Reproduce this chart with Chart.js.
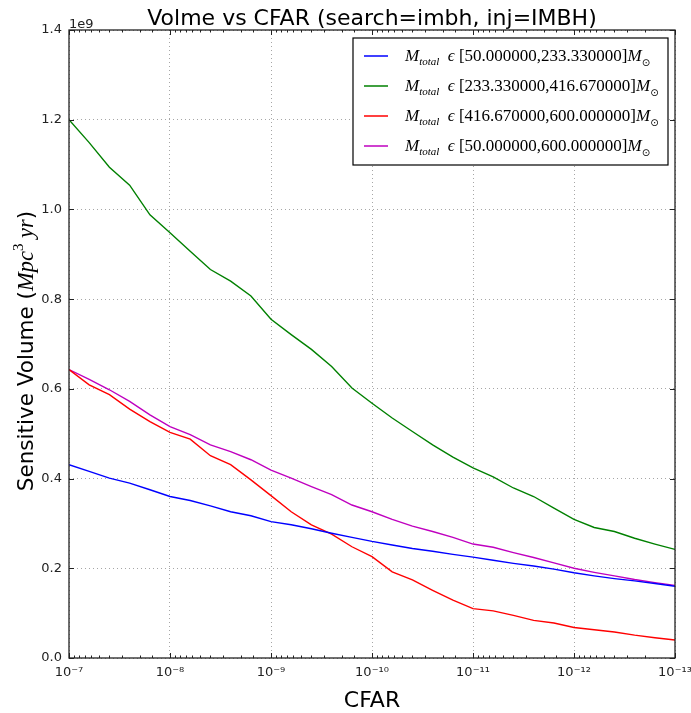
<!DOCTYPE html>
<html>
<head>
<meta charset="utf-8">
<script src="https://cdn.jsdelivr.net/npm/chart.js@4"></script>
<style>
  html, body { margin: 0; padding: 0; background: #fff; }
  #wrap { width: 691px; height: 713px; }
</style>
</head>
<body>
<div id="wrap"><canvas id="volChart" width="691" height="713"></canvas></div>
<script>
// CFAR sample points (x axis, log scale, reversed)
const cfar = [1.0e-7, 6.31e-8, 3.98e-8, 2.51e-8, 1.58e-8, 1.0e-8, 6.31e-9, 3.98e-9, 2.51e-9, 1.58e-9,
  1.0e-9, 6.31e-10, 3.98e-10, 2.51e-10, 1.58e-10, 1.0e-10, 6.31e-11, 3.98e-11, 2.51e-11, 1.58e-11,
  1.0e-11, 6.31e-12, 3.98e-12, 2.51e-12, 1.58e-12, 1.0e-12, 6.31e-13, 3.98e-13, 2.51e-13, 1.58e-13, 1.0e-13];

// sensitive volume, in units of 1e9 Mpc^3 yr
const volLow = [0.431, 0.416, 0.401, 0.390, 0.375, 0.360, 0.351, 0.339, 0.326, 0.317,
  0.304, 0.297, 0.288, 0.278, 0.269, 0.260, 0.252, 0.244, 0.238, 0.231,
  0.225, 0.218, 0.211, 0.205, 0.198, 0.190, 0.183, 0.177, 0.172, 0.166, 0.160];
const volMid = [1.200, 1.149, 1.094, 1.054, 0.988, 0.948, 0.907, 0.866, 0.840, 0.807,
  0.755, 0.721, 0.688, 0.650, 0.602, 0.568, 0.535, 0.505, 0.475, 0.448,
  0.424, 0.404, 0.379, 0.360, 0.334, 0.309, 0.291, 0.282, 0.267, 0.254, 0.242];
const volHigh = [0.643, 0.609, 0.587, 0.555, 0.527, 0.503, 0.488, 0.451, 0.431, 0.397,
  0.362, 0.326, 0.297, 0.276, 0.248, 0.226, 0.192, 0.174, 0.151, 0.129,
  0.110, 0.105, 0.095, 0.084, 0.078, 0.068, 0.063, 0.058, 0.051, 0.045, 0.040];
const volAll = [0.643, 0.621, 0.598, 0.572, 0.542, 0.516, 0.498, 0.475, 0.460, 0.442,
  0.419, 0.401, 0.382, 0.364, 0.341, 0.326, 0.309, 0.294, 0.282, 0.269,
  0.254, 0.247, 0.235, 0.224, 0.212, 0.200, 0.191, 0.183, 0.175, 0.168, 0.162];

// total mass bins (solar masses) for the legend
const massBins = [[50, 233.33], [233.33, 416.67], [416.67, 600], [50, 600]];
const yTicks = [0, 0.2, 0.4, 0.6, 0.8, 1.0, 1.2, 1.4];

const SANS = "'DejaVu Sans', sans-serif";
const SERIF = "'Liberation Serif', 'DejaVu Serif', serif";
const SUP = { "-": "\u207B", "0": "\u2070", "1": "\u00B9", "2": "\u00B2", "3": "\u00B3", "4": "\u2074",
  "5": "\u2075", "6": "\u2076", "7": "\u2077", "8": "\u2078", "9": "\u2079" };

function isDecade(v) {
  const l = Math.log10(v);
  return Math.abs(l - Math.round(l)) < 1e-6;
}

function decadeLabel(v) {
  const e = String(Math.round(Math.log10(v)));
  return "10" + e.split("").map((c) => SUP[c]).join("");
}

// draw a run of text pieces with different fonts / offsets, return width
function drawRuns(ctx, x, y, runs, measureOnly) {
  let w = 0;
  runs.forEach((r) => {
    ctx.font = r.font;
    if (!measureOnly) ctx.fillText(r.text, x + w, y + (r.dy || 0));
    w += ctx.measureText(r.text).width;
  });
  return w;
}

function legendRuns(bin) {
  const big = 17, small = 11;
  return [
    { text: "M", font: `italic ${big}px ${SERIF}` },
    { text: "total", font: `italic ${small}px ${SERIF}`, dy: 4 },
    { text: "  \u03F5 ", font: `italic ${big}px ${SERIF}` },
    { text: `[${bin[0].toFixed(6)},${bin[1].toFixed(6)}]`, font: `${big}px ${SERIF}` },
    { text: "M", font: `italic ${big}px ${SERIF}` },
    { text: "\u2299", font: `${small - 1}px ${SANS}`, dy: 5 },
  ];
}

const decor = {
  id: "decor",
  afterDraw(chart) {
    const { ctx, chartArea: a, scales } = chart;
    const x = scales.x, y = scales.y;
    ctx.save();

    // inward tick marks
    ctx.strokeStyle = "#222";
    ctx.lineWidth = 1;
    ctx.beginPath();
    x.ticks.forEach((t) => {
      const px = Math.round(x.getPixelForValue(t.value)) + 0.5;
      const len = isDecade(t.value) ? 5 : 2.5;
      ctx.moveTo(px, a.bottom); ctx.lineTo(px, a.bottom - len);
      ctx.moveTo(px, a.top); ctx.lineTo(px, a.top + len);
    });
    y.ticks.forEach((t) => {
      const py = Math.round(y.getPixelForValue(t.value)) + 0.5;
      ctx.moveTo(a.left, py); ctx.lineTo(a.left + 5, py);
      ctx.moveTo(a.right, py); ctx.lineTo(a.right - 5, py);
    });
    ctx.stroke();

    // axes frame
    ctx.strokeStyle = "#222";
    ctx.lineWidth = 1.3;
    ctx.strokeRect(a.left, a.top, a.right - a.left, a.bottom - a.top);

    // title
    ctx.fillStyle = "#000";
    ctx.textAlign = "center";
    ctx.textBaseline = "alphabetic";
    ctx.font = `22px ${SANS}`;
    ctx.fillText("Volme vs CFAR (search=imbh, inj=IMBH)", (a.left + a.right) / 2, 25);

    // offset text
    ctx.textAlign = "left";
    ctx.font = `13px ${SANS}`;
    ctx.fillStyle = "#222";
    ctx.fillText("1e9", a.left, 28);

    // y axis label with math part
    ctx.fillStyle = "#000";
    const yRuns = [
      { text: "Sensitive Volume (", font: `21.5px ${SANS}` },
      { text: "Mpc", font: `italic 22.5px ${SERIF}` },
      { text: "3", font: `15px ${SERIF}`, dy: -10 },
      { text: " yr", font: `italic 22.5px ${SERIF}` },
      { text: ")", font: `21.5px ${SANS}` },
    ];
    const yw = drawRuns(ctx, 0, 0, yRuns, true);
    ctx.save();
    ctx.translate(33, 351);
    ctx.rotate(-Math.PI / 2);
    drawRuns(ctx, -yw / 2, 0, yRuns);
    ctx.restore();

    // legend
    const bx = 353, by = 38, bw = 315, bh = 127;
    ctx.fillStyle = "#fff";
    ctx.fillRect(bx, by, bw, bh);
    ctx.strokeStyle = "#000";
    ctx.lineWidth = 1.2;
    ctx.strokeRect(bx, by, bw, bh);
    chart.data.datasets.forEach((ds, i) => {
      const ry = 56 + i * 30;
      ctx.strokeStyle = ds.borderColor;
      ctx.lineWidth = 1.5;
      ctx.beginPath();
      ctx.moveTo(364, ry); ctx.lineTo(388, ry);
      ctx.stroke();
      ctx.fillStyle = "#000";
      drawRuns(ctx, 405, ry + 5, legendRuns(massBins[i]));
    });

    ctx.restore();
  },
};

const ctx = document.getElementById("volChart").getContext("2d");

function series(data, color) {
  return {
    data: cfar.map((c, i) => ({ x: c, y: data[i] })),
    borderColor: color,
    backgroundColor: "transparent",
    borderWidth: 1.4,
    pointRadius: 0,
    tension: 0,
  };
}

const chart = new Chart(ctx, {
  type: "line",
  data: {
    datasets: [
      series(volLow, "#0000ff"),
      series(volMid, "#008000"),
      series(volHigh, "#ff0000"),
      series(volAll, "#bf00bf"),
    ],
  },
  options: {
    responsive: false,
    animation: false,
    layout: { padding: { top: 30, right: 16, bottom: 0, left: 0 } },
    plugins: {
      legend: { display: false },
      tooltip: { enabled: false },
    },
    scales: {
      x: {
        type: "logarithmic",
        reverse: true,
        min: 1e-13,
        max: 1e-7,
        grid: {
          drawTicks: false,
          color: (c) => (c.tick && isDecade(c.tick.value) ? "rgba(0,0,0,0.35)" : "transparent"),
          lineWidth: 1,
        },
        border: { display: false, dash: [1, 3] },
        ticks: {
          autoSkip: false,
          maxRotation: 0,
          padding: 7,
          color: "#222",
          font: { family: SANS, size: 13 },
          callback: (v) => (isDecade(v) ? decadeLabel(v) : ""),
        },
        title: {
          display: true,
          text: "CFAR",
          color: "#000",
          font: { family: SANS, size: 22 },
          padding: { top: 0, bottom: -1 },
        },
        afterFit(scale) {
          scale.height = 55;
          scale.paddingLeft = 0;
          scale.paddingRight = 0;
        },
      },
      y: {
        min: 0,
        max: 1.4,
        afterBuildTicks(scale) {
          scale.ticks = yTicks.map((v) => ({ value: v }));
        },
        grid: {
          drawTicks: false,
          color: "rgba(0,0,0,0.35)",
          lineWidth: 1,
        },
        border: { display: false, dash: [1, 3] },
        ticks: {
          padding: 7,
          color: "#222",
          font: { family: SANS, size: 13 },
          callback: (v) => Number(v).toFixed(1),
        },
        afterFit(scale) {
          scale.width = 69;
        },
      },
    },
  },
  plugins: [decor],
});
</script>
</body>
</html>
